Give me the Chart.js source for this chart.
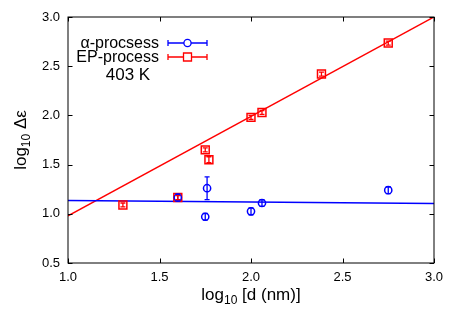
<!DOCTYPE html>
<html>
<head>
<meta charset="utf-8">
<script src="https://cdn.jsdelivr.net/npm/chart.js@4.4.0/dist/chart.umd.min.js"></script>
<style>
  html, body { margin: 0; padding: 0; background: #fff; }
  #wrap { width: 459px; height: 322px; }
</style>
</head>
<body>
<div id="wrap"><canvas id="chart" width="459" height="322"></canvas></div>
<script>
// data
const epX = [1.30, 1.60, 1.75, 1.77, 2.00, 2.06, 2.385, 2.75];
const epY = [1.09, 1.165, 1.65, 1.55, 1.98, 2.03, 2.42, 2.735];
const epErr = [0.02, 0.02, 0.02, 0.03, 0.02, 0.02, 0.02, 0.02];

const alphaX = [1.60, 1.75, 1.76, 2.00, 2.06, 2.75];
const alphaY = [1.165, 0.97, 1.26, 1.025, 1.11, 1.24];
const alphaErr = [0.035, 0.035, 0.115, 0.035, 0.035, 0.035];

const fitX = [1.0, 3.0];
const epFitY = [0.98, 3.0];
const alphaFitY = [1.135, 1.105];

const xTicks = [1.0, 1.5, 2.0, 2.5, 3.0];
const yTicks = [0.5, 1.0, 1.5, 2.0, 2.5, 3.0];

const RED = "#ff0000";
const BLUE = "#0000ff";
const FONT = "'Liberation Sans', Arial, sans-serif";

function toPoints(xs, ys) {
    return xs.map((x, i) => ({ x: x, y: ys[i] }));
}

/* =========================
   FRAME, TICKS, TITLES, LEGEND
========================= */

const framePlugin = {
    id: "frame",
    afterDatasetsDraw(chart) {
        const ctx = chart.ctx;
        const a = chart.chartArea;
        const xs = chart.scales.x;
        const ys = chart.scales.y;

        // error bars
        const drawErr = (xsArr, ysArr, errs, color) => {
            ctx.save();
            ctx.strokeStyle = color;
            ctx.lineWidth = 1.3;
            xsArr.forEach((x, i) => {
                const px = xs.getPixelForValue(x);
                const top = ys.getPixelForValue(ysArr[i] + errs[i]);
                const bot = ys.getPixelForValue(ysArr[i] - errs[i]);
                ctx.beginPath();
                ctx.moveTo(px, top); ctx.lineTo(px, bot);
                ctx.moveTo(px - 2.5, top); ctx.lineTo(px + 2.5, top);
                ctx.moveTo(px - 2.5, bot); ctx.lineTo(px + 2.5, bot);
                ctx.stroke();
            });
            ctx.restore();
        };
        drawErr(alphaX, alphaY, alphaErr, BLUE);
        drawErr(epX, epY, epErr, RED);

        ctx.save();
        ctx.strokeStyle = "#000";
        ctx.lineWidth = 1;
        ctx.strokeRect(a.left, a.top, a.right - a.left, a.bottom - a.top);

        // inward ticks on all four sides
        ctx.beginPath();
        xTicks.forEach(v => {
            const px = Math.round(xs.getPixelForValue(v)) + 0.5;
            ctx.moveTo(px, a.bottom); ctx.lineTo(px, a.bottom - 4.5);
            ctx.moveTo(px, a.top); ctx.lineTo(px, a.top + 4.5);
        });
        yTicks.forEach(v => {
            const py = Math.round(ys.getPixelForValue(v)) + 0.5;
            ctx.moveTo(a.left, py); ctx.lineTo(a.left + 4.5, py);
            ctx.moveTo(a.right, py); ctx.lineTo(a.right - 4.5, py);
        });
        ctx.stroke();

        // axis titles with subscripts
        ctx.fillStyle = "#000";
        ctx.textBaseline = "alphabetic";
        const big = "17px " + FONT;
        const small = "12px " + FONT;

        const drawSub = (parts, cx, cy) => {
            let w = 0;
            parts.forEach(p => { ctx.font = p.sub ? small : big; w += ctx.measureText(p.t).width; });
            let x = cx - w / 2;
            parts.forEach(p => {
                ctx.font = p.sub ? small : big;
                ctx.fillText(p.t, x, cy + (p.sub ? 4 : 0));
                x += ctx.measureText(p.t).width;
            });
        };

        ctx.textAlign = "left";
        drawSub([{ t: "log" }, { t: "10", sub: true }, { t: " [d (nm)]" }], 251, 300);

        ctx.save();
        ctx.translate(26, 140);
        ctx.rotate(-Math.PI / 2);
        drawSub([{ t: "log" }, { t: "10", sub: true }, { t: " \u0394\u03b5" }], 0, 0);
        ctx.restore();

        // legend
        const legFont = "16px " + FONT;
        const legend = [
            { label: "\u03b1-procsess", color: BLUE, style: "circle", y: 43 },
            { label: "EP-process", color: RED, style: "rect", y: 57 }
        ];
        legend.forEach(item => {
            ctx.font = legFont;
            ctx.textAlign = "right";
            ctx.textBaseline = "middle";
            ctx.fillStyle = "#000";
            ctx.fillText(item.label, 159, item.y + 1);

            ctx.strokeStyle = item.color;
            ctx.lineWidth = 1.3;
            ctx.beginPath();
            ctx.moveTo(168, item.y); ctx.lineTo(207, item.y);
            ctx.moveTo(168, item.y - 3); ctx.lineTo(168, item.y + 3);
            ctx.moveTo(207, item.y - 3); ctx.lineTo(207, item.y + 3);
            ctx.stroke();
            ctx.fillStyle = "#fff";
            ctx.beginPath();
            if (item.style === "circle") {
                ctx.arc(187.5, item.y, 3.6, 0, Math.PI * 2);
            } else {
                ctx.rect(183.5, item.y - 4, 8, 8);
            }
            ctx.fill();
            ctx.stroke();
        });
        ctx.font = "17px " + FONT;
        ctx.textAlign = "center";
        ctx.textBaseline = "middle";
        ctx.fillStyle = "#000";
        ctx.fillText("403 K", 128, 75);
        ctx.restore();
    }
};

/* =========================
   CHART
========================= */

new Chart(document.getElementById("chart").getContext("2d"), {
    type: "scatter",
    data: {
        datasets: [
            {
                data: toPoints(alphaX, alphaY),
                borderColor: BLUE,
                backgroundColor: "rgba(0,0,0,0)",
                pointStyle: "circle",
                pointRadius: 3.6,
                borderWidth: 1.5,
                showLine: false
            },
            {
                data: toPoints(epX, epY),
                borderColor: RED,
                backgroundColor: "rgba(0,0,0,0)",
                pointStyle: "rect",
                pointRadius: 5.6,
                borderWidth: 1.5,
                showLine: false
            },
            {
                data: toPoints(fitX, alphaFitY),
                borderColor: BLUE,
                borderWidth: 1.5,
                pointRadius: 0,
                showLine: true
            },
            {
                data: toPoints(fitX, epFitY),
                borderColor: RED,
                borderWidth: 1.5,
                pointRadius: 0,
                showLine: true
            }
        ]
    },
    options: {
        responsive: false,
        animation: false,
        layout: { padding: { left: 0, right: 25, top: 17, bottom: 0 } },
        plugins: {
            legend: { display: false },
            tooltip: { enabled: false }
        },
        scales: {
            x: {
                type: "linear",
                min: 1.0,
                max: 3.0,
                afterFit: s => { s.height = 59; },
                afterBuildTicks: s => { s.ticks = xTicks.map(v => ({ value: v })); },
                grid: { display: false, drawTicks: false },
                border: { display: false },
                ticks: {
                    padding: 7,
                    color: "#000",
                    font: { family: FONT, size: 13 },
                    callback: v => v.toFixed(1)
                }
            },
            y: {
                type: "linear",
                min: 0.5,
                max: 3.0,
                afterFit: s => { s.width = 68; },
                afterBuildTicks: s => { s.ticks = yTicks.map(v => ({ value: v })); },
                grid: { display: false, drawTicks: false },
                border: { display: false },
                ticks: {
                    padding: 8,
                    color: "#000",
                    font: { family: FONT, size: 13 },
                    callback: v => v.toFixed(1)
                }
            }
        }
    },
    plugins: [framePlugin]
});
</script>
</body>
</html>
